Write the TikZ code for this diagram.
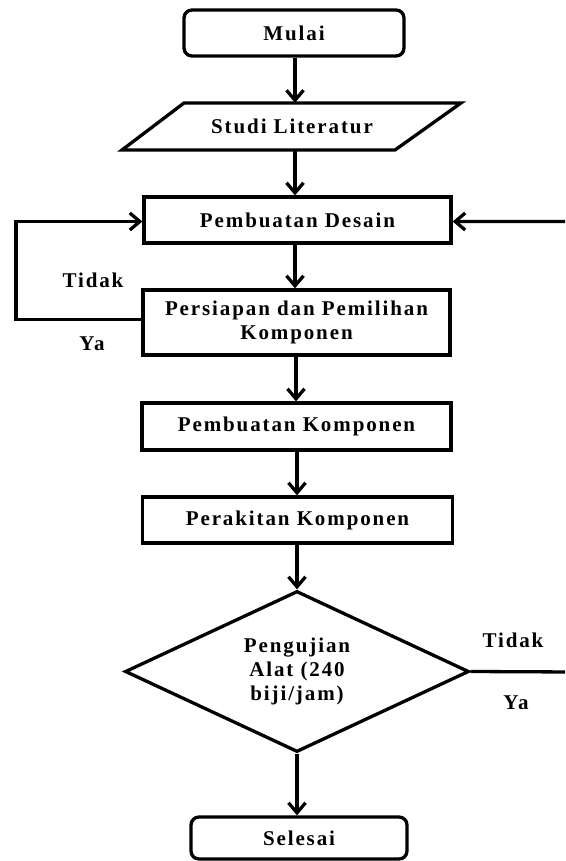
\documentclass[tikz,border=0pt]{standalone}
\usepackage{fontspec}
\setmainfont{Liberation Serif}[LetterSpace=9]
\usetikzlibrary{arrows.meta,shapes.geometric}
\begin{document}
\begin{tikzpicture}[x=1pt,y=-1pt,
  line/.style={line width=3.3pt},
  arr/.style={line width=3.3pt,-{Straight Barb[length=10pt,width=17pt,line width=3.3pt]}},
  box/.style={draw,line width=3.3pt,rectangle,inner sep=0pt,align=center},
  term/.style={box,rounded corners=8pt},
  txt/.style={font=\fontsize{21}{24}\selectfont\bfseries,align=center,inner sep=0pt},
  lbl/.style={font=\fontsize{21}{24}\selectfont\bfseries,inner sep=0pt}
]
\useasboundingbox (0,0) rectangle (565,861);
\clip (0,0) rectangle (565,861);
\fill[white] (0,0) rectangle (565,861);

\node[term,txt,minimum width=220pt,minimum height=46pt] (mulai) at (294,33) {Mulai};
\node[txt,minimum width=150pt,minimum height=47pt] (studi) at (292,126.5) {Studi Literatur};
\draw[line,line join=miter] (184,103) -- (461,103) -- (395,150) -- (122,150) -- cycle;
\node[box,txt,minimum width=307pt,minimum height=46pt] (desain) at (297.5,220) {Pembuatan Desain};
\node[box,txt,minimum width=307pt,minimum height=65pt] (persiapan) at (296.5,322.5) {Persiapan dan Pemilihan\\Komponen};
\node[box,txt,minimum width=309pt,minimum height=47pt] (komponen) at (296.5,426.5) {Pembuatan Komponen};
\node[box,txt,minimum width=310pt,minimum height=46pt] (perakitan) at (297.5,520) {Perakitan Komponen};
\node[draw,line width=3.3pt,diamond,aspect=2,inner sep=0pt,minimum width=344pt,minimum height=161pt,txt] (uji) at (297,671.5) {Pengujian\\Alat (240\\biji/jam)};
\node[term,txt,minimum width=216pt,minimum height=42pt] (selesai) at (299,838) {Selesai};

\coordinate (rr) at (575,672);
\coordinate (ll) at (16,0);
\coordinate (pw) at ([yshift=3pt]persiapan.west);
\coordinate (dw) at ([yshift=-1.5pt]desain.west);
\coordinate (de) at ([yshift=-1.5pt]desain.east);

\draw[arr] (mulai.south -| 295,0) -- (studi.north -| 295,0);
\draw[arr] (studi.south -| 295,0) -- (desain.north -| 295,0);
\draw[arr] (desain.south -| 295,0) -- (persiapan.north -| 295,0);
\draw[arr] (persiapan.south -| 296,0) -- (komponen.north -| 296,0);
\draw[arr] (komponen.south -| 297,0) -- (perakitan.north -| 297,0);
\draw[arr] (perakitan.south -| uji.north) -- (uji.north);
\draw[arr] (uji.south) -- (selesai.north -| uji.south);

\draw[arr,line join=miter] (pw) -- (ll |- pw) -- (ll |- dw) -- (dw);
\draw[arr,line join=miter] (uji.east) -- (rr) |- (de);

\node[lbl] (tidak1) at (93,280) {Tidak};
\node[lbl] (ya1) at (92,344) {Ya};
\node[lbl] (tidak2) at (513,640) {Tidak};
\node[lbl] (ya2) at (516,703) {Ya};
\end{tikzpicture}
\end{document}
